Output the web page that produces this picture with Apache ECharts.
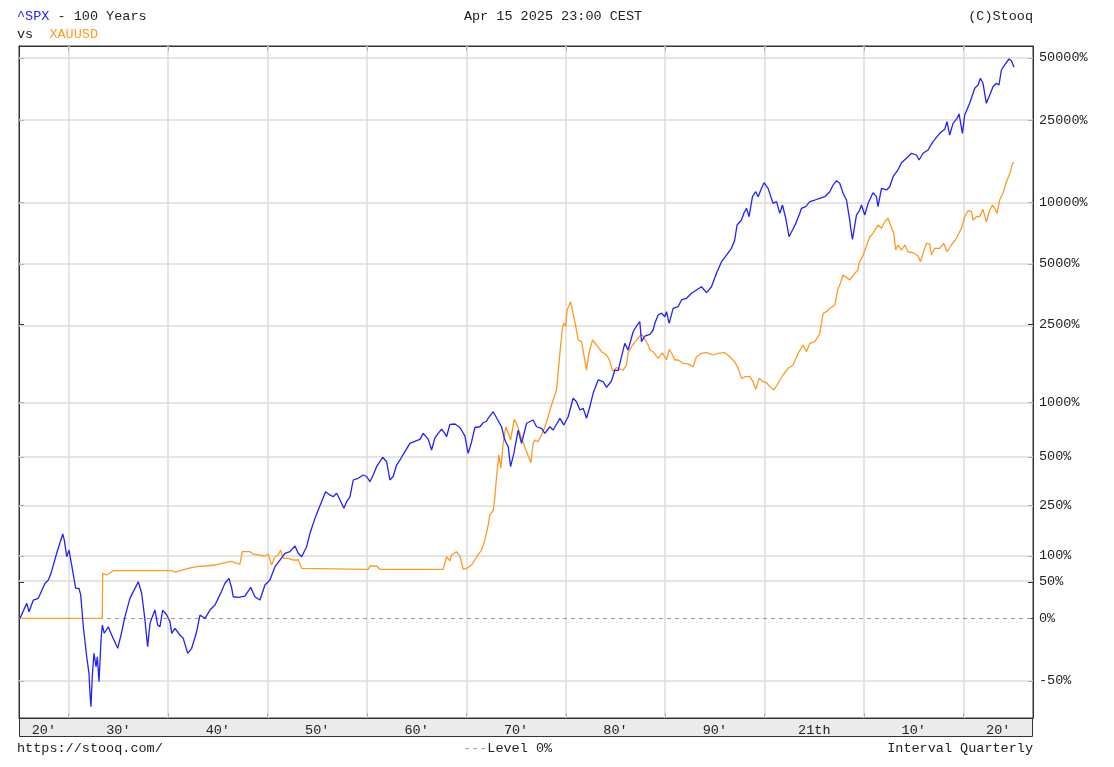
<!DOCTYPE html>
<html><head><meta charset="utf-8">
<script src="https://cdn.jsdelivr.net/npm/echarts@6/dist/echarts.min.js"></script>
<style>html,body{margin:0;padding:0;background:#fff}#c{width:1114px;height:767px}</style>
</head><body><div id="c"></div>
<script>
// ---- data: [year (decimal), change in % since start] ----
const spxPoints = [
[1925.10,0],[1925.78,18],[1926.01,7.6],[1926.44,22.5],[1926.94,24.8],[1927.62,47.5],[1927.95,53],[1928.22,64.7],[1928.79,105.7],[1929.40,154.7],[1929.56,138],[1929.80,98],
[1930.03,113],[1930.30,80.6],[1930.70,39.5],[1931.04,39.5],[1931.21,29.4],[1931.47,-8.9],[1931.81,-34.7],[1932.04,-45.7],[1932.14,-56.5],[1932.24,-62.5],[1932.37,-47.6],[1932.54,-32.2],[1932.75,-41.5],[1932.88,-34.7],[1933.05,-50.5],[1933.25,-21.4],[1933.38,-7.2],[1933.58,-15.3],[1933.98,-8.9],[1934.32,-16.9],[1934.93,-28.3],[1935.26,-16.9],[1935.66,1.8],[1936.16,24.8],[1937.00,50],[1937.34,32],[1937.67,-1.8],[1937.94,-27],[1938.18,-5.4],[1938.41,1.8],[1938.68,9.6],[1938.95,-7.2],[1939.18,-8.9],[1939.45,9.6],[1939.86,3.7],
[1940.19,-3.7],[1940.36,-15.3],[1940.69,-10.5],[1941.19,-16.9],[1941.52,-19.9],[1941.97,-32.2],[1942.37,-28.3],[1942.87,-13.8],[1943.20,3.7],[1943.71,0],[1944.21,9.6],[1944.71,15.9],[1945.22,30],[1945.72,47.5],[1946.12,55.8],[1946.39,40],[1946.55,27],[1947.06,26.2],[1947.73,28],[1948.30,41],[1948.73,27],[1949.24,22.5],[1949.74,44.7],
[1950.24,53],[1950.75,77.3],[1951.25,90.9],[1951.75,105.7],[1952.25,109.4],[1952.76,123],[1953.09,105.7],[1953.43,98],[1953.93,121],[1954.27,156.7],[1954.77,203],[1955.10,232.5],[1955.44,264.6],[1955.84,307],[1956.28,293],[1956.61,285],[1956.95,300],[1957.21,278.5],[1957.45,258],[1957.68,239],[1957.96,264.6],[1958.29,285],[1958.62,363.7],[1959.12,372.5],[1959.63,390],[1959.97,382],
[1960.30,355],[1960.63,390],[1960.97,437.5],[1961.58,496.5],[1961.98,468],[1962.31,363.7],[1962.64,382],[1962.98,447.5],[1963.32,478.7],[1963.82,534.7],[1964.32,596.6],[1964.99,617],[1965.33,628],[1965.66,678],[1966.16,630],[1966.50,547],[1966.84,640],[1967.17,678],[1967.51,714],[1967.84,678],[1968.01,649],[1968.34,760],[1968.85,763],[1969.35,730],[1969.85,656],
[1970.18,523],[1970.53,609],[1970.86,730],[1971.36,737],[1971.69,775],[1972.03,790],[1972.19,819],[1972.70,889],[1973.20,795],[1973.54,737],[1973.87,622],[1974.21,571],[1974.45,437.5],[1974.78,523],[1975.21,707],[1975.55,597],[1976.06,770],[1976.72,802],[1977.06,737],[1977.56,723],[1977.90,678],[1978.40,737],[1978.73,707],[1979.41,819],[1979.81,753],
[1980.24,835],[1980.74,1048],[1981.08,1005],[1981.42,908],[1981.75,927],[1982.09,819],[1982.42,945],[1982.75,1113],[1983.26,1306],[1983.76,1280],[1984.10,1195],[1984.60,1290],[1984.94,1470],[1985.27,1460],[1985.61,1720],[1985.94,2012],[1986.27,1860],[1986.78,2300],[1987.12,2460],[1987.45,2584],[1987.62,2050],[1987.95,2190],[1988.46,2230],[1988.79,2348],[1988.96,2536],[1989.29,2790],[1989.63,2850],[1989.96,2737],
[1990.13,2899],[1990.40,2536],[1990.80,3014],[1991.30,3070],[1991.64,3315],[1992.15,3378],[1992.65,3577],[1993.15,3714],[1993.65,3856],[1994.16,3603],[1994.66,3856],[1995.16,4490],[1995.67,5122],[1996.17,5523],[1996.67,5958],[1997.00,6543],[1997.23,7747],[1997.68,8190],[1997.91,8830],[1998.18,9340],[1998.44,8500],[1998.78,10640],[1999.11,11250],[1999.35,10640],[1999.69,11680],[1999.95,12440],
[2000.35,11680],[2000.85,9880],[2001.20,10060],[2001.53,8830],[2001.80,9690],[2002.13,8350],[2002.46,6790],[2002.81,7320],[2003.14,7890],[2003.54,8830],[2003.71,9340],[2004.14,9510],[2004.55,10060],[2005.05,10250],[2005.55,10450],[2006.05,10640],[2006.56,11250],[2006.89,12120],[2007.23,12720],[2007.56,12360],[2007.73,11680],[2007.89,11050],[2008.24,10250],[2008.40,9160],[2008.57,8190],[2008.64,7600],[2008.84,6590],[2009.24,8660],[2009.57,9160],[2009.74,9690],
[2010.08,8660],[2010.41,9880],[2010.91,11120],[2011.25,10640],[2011.41,9510],[2011.76,11680],[2012.26,11470],[2012.59,11900],[2012.92,13300],[2013.42,14340],[2013.77,15550],[2014.27,16340],[2014.77,17280],[2015.28,16950],[2015.54,16030],[2015.94,17280],[2016.44,17920],[2016.94,19660],[2017.62,21590],[2018.12,22570],[2018.35,24560],[2018.62,21180],[2018.96,24130],[2019.36,25520],[2019.56,26780],[2019.90,21590],
[2020.13,26480],[2020.63,30150],[2021.14,35630],[2021.47,36970],[2021.71,39820],[2021.97,37670],[2022.31,30150],[2022.65,33070],[2022.98,36270],[2023.32,37670],[2023.58,36970],[2023.82,43670],[2024.15,46180],[2024.59,49350],[2024.83,48430],[2025.09,45000]
];
const goldPoints = [
[1925.10,0],[1933.38,0],[1933.42,64.7],[1933.82,61.7],[1934.48,69.6],[1940.36,69.6],[1940.69,67],[1942.03,74],[1942.87,77.3],[1943.71,78.6],[1944.71,80.6],[1945.39,84],[1946.39,88],[1946.89,84],[1947.23,82.5],[1947.46,109.4],[1948.23,109.4],[1948.56,104],[1949.74,99.6],
[1950.07,104],[1950.41,80.6],[1950.75,98],[1951.08,101.8],[1951.32,113],[1951.58,94.5],[1952.08,94.5],[1952.59,90.9],[1953.09,90.9],[1953.43,74],[1953.53,72.2],[1960.13,72.2],[1960.30,78.6],[1960.97,78.6],[1961.30,72.2],[1967.67,72.2],[1968.01,98],[1968.34,89],[1968.51,101.8],[1969.00,109.4],[1969.35,99.6],[1969.68,72.2],
[1970.02,74],[1970.53,80.6],[1971.03,98],[1971.53,113],[1971.86,138],[1972.19,180],[1972.36,214.5],[1972.70,230],[1972.87,285],[1973.04,382],[1973.27,512],[1973.47,428],[1973.70,597],[1973.97,737],[1974.21,678],[1974.45,622],[1974.81,809],[1975.05,770],[1975.38,678],[1975.99,547],[1976.49,462],[1976.72,597],[1976.89,622],[1977.22,609],[1977.56,664],[1977.90,737],[1978.23,835],[1978.57,965],[1979.07,1158],[1979.41,1790],[1979.68,2438],[1979.81,2536],[1979.98,2438],
[1980.14,2955],[1980.48,3250],[1980.74,2846],[1981.01,2438],[1981.25,2090],[1981.59,2050],[1981.85,1720],[1982.09,1470],[1982.32,1790],[1982.69,2090],[1983.10,1973],[1983.60,1824],[1984.10,1755],[1984.43,1640],[1984.70,1455],[1985.11,1515],[1985.44,1485],[1985.77,1470],[1986.11,1560],[1986.27,1800],[1986.61,1934],[1987.12,2090],[1987.62,2240],[1987.95,2110],[1988.29,1973],[1988.46,1860],[1988.79,1824],[1989.29,1688],[1989.73,1800],
[1990.13,1655],[1990.42,1876],[1990.74,1755],[1990.97,1655],[1991.30,1655],[1991.80,1592],[1992.31,1580],[1992.81,1530],[1993.15,1720],[1993.65,1790],[1994.16,1803],[1994.82,1755],[1995.32,1790],[1996.00,1803],[1996.50,1720],[1997.00,1622],[1997.34,1500],[1997.68,1332],[1998.01,1358],[1998.51,1358],[1998.84,1280],[1999.11,1168],[1999.45,1332],[1999.85,1280],
[2000.19,1264],[2000.52,1205],[2000.92,1158],[2001.26,1230],[2001.53,1306],[2001.86,1386],[2002.36,1500],[2002.87,1560],[2003.37,1790],[2003.87,1973],[2004.21,1824],[2004.55,2012],[2005.05,2050],[2005.38,2173],[2005.55,2259],[2005.72,2536],[2005.88,2846],[2006.22,2899],[2006.56,3010],[2007.06,3130],[2007.39,3786],[2007.56,3930],[2007.89,4406],[2008.06,4406],[2008.57,4163],[2009.07,4490],[2009.40,4663],[2009.50,5030],[2009.91,5523],
[2010.58,6790],[2010.91,7050],[2011.41,7747],[2011.76,7460],[2012.09,8030],[2012.42,8350],[2012.66,7747],[2012.99,7050],[2013.19,5843],[2013.42,6183],[2013.77,5843],[2014.10,6183],[2014.43,5730],[2014.93,5668],[2015.44,5464],[2015.68,5122],[2015.94,5630],[2016.28,6300],[2016.61,6270],[2016.78,5523],[2017.12,5958],[2017.62,5958],[2018.02,6300],[2018.35,5730],[2018.79,6183],[2019.30,6670],[2019.80,7460],
[2020.13,8500],[2020.46,9090],[2020.81,8990],[2020.97,8190],[2021.31,8500],[2021.64,8500],[2021.97,9235],[2022.31,8030],[2022.65,9160],[2022.92,9690],[2023.15,9340],[2023.38,8830],[2023.65,10250],[2023.98,11050],[2024.33,12580],[2024.49,12580],[2024.73,14070],[2024.93,15450],[2025.09,15550]
];
const yTickPct = [-50, 0, 50, 100, 250, 500, 1000, 2500, 5000, 10000, 25000, 50000];
const decadeYears = [1930, 1940, 1950, 1960, 1970, 1980, 1990, 2000, 2010, 2020];
const decadeLabelYears = [1927.5, 1935, 1945, 1955, 1965, 1975, 1985, 1995, 2005, 2015, 2023.5];
const decadeLabels = ["20\u2032", "30\u2032", "40\u2032", "50\u2032", "60\u2032", "70\u2032", "80\u2032", "90\u2032", "21th", "10\u2032", "20\u2032"];

// ---- chart ----
const L = p => Math.log10(1 + p / 100);
const FONT = '"Liberation Mono","DejaVu Sans Mono",monospace';
const FS = 13.5;
const AX = '#333333';
const GRIDC = '#dcdcdc';
const BLUE = '#2222ff';
const ORANGE = '#ff9a22';
function nearestIdx(arr, v) { let b = 0; for (let i = 1; i < arr.length; i++) if (Math.abs(arr[i] - v) < Math.abs(arr[b] - v)) b = i; return b; }
const yTickVals = yTickPct.map(L);

const chart = echarts.init(document.getElementById('c'));
const xBase = {
  type: 'value', min: 1925, max: 2027,
  axisLine: { show: true, onZero: false, lineStyle: { color: AX, width: 1 } },
  axisTick: { show: true, inside: true, length: 5, customValues: decadeYears, lineStyle: { color: AX } },
  splitLine: { show: false }
};
const yBase = {
  type: 'value', min: -0.4802, max: 2.7568,
  axisLine: { show: true, onZero: false, lineStyle: { color: AX, width: 1 } },
  axisTick: { show: true, inside: true, length: 5, customValues: yTickVals, lineStyle: { color: AX } },
  splitLine: { show: false }
};
chart.setOption({
  animation: false,
  backgroundColor: '#ffffff',
  grid: { left: 19, right: 81, top: 46, bottom: 49, show: true, borderColor: AX, borderWidth: 1 },
  xAxis: [
    Object.assign({}, xBase, { position: 'bottom',
      axisLabel: { show: true, customValues: decadeLabelYears,
        formatter: v => decadeLabels[nearestIdx(decadeLabelYears, v)],
        margin: 5, color: '#222', fontFamily: FONT, fontSize: FS } }),
    Object.assign({}, xBase, { position: 'top', axisLabel: { show: false } })
  ],
  yAxis: [
    Object.assign({}, yBase, { position: 'right',
      axisLabel: { show: true, customValues: yTickVals,
        formatter: v => yTickPct[nearestIdx(yTickVals, v)] + '%',
        margin: 6, color: '#222', fontFamily: FONT, fontSize: FS } }),
    Object.assign({}, yBase, { position: 'left', axisLabel: { show: false } })
  ],
  graphic: [
    { type: 'rect', z: -1, shape: { x: 19.5, y: 718.5, width: 1013, height: 18 },
      style: { fill: '#ebebeb', stroke: AX, lineWidth: 1 } },
    { type: 'text', x: 17, y: 16, style: { text: '{b|^SPX} - 100 Years', align: 'left', verticalAlign: 'middle',
        font: FS + 'px ' + FONT, fill: '#222', rich: { b: { fill: BLUE, font: FS + 'px ' + FONT } } } },
    { type: 'text', x: 17, y: 34, style: { text: 'vs  {o|XAUUSD}', align: 'left', verticalAlign: 'middle',
        font: FS + 'px ' + FONT, fill: '#222', rich: { o: { fill: ORANGE, font: FS + 'px ' + FONT } } } },
    { type: 'text', x: 553, y: 16, style: { text: 'Apr 15 2025 23:00 CEST', align: 'center', verticalAlign: 'middle',
        font: FS + 'px ' + FONT, fill: '#222' } },
    { type: 'text', x: 1033, y: 16, style: { text: '(C)Stooq', align: 'right', verticalAlign: 'middle',
        font: FS + 'px ' + FONT, fill: '#222' } },
    { type: 'text', x: 17, y: 748, style: { text: 'https://stooq.com/', align: 'left', verticalAlign: 'middle',
        font: FS + 'px ' + FONT, fill: '#222' } },
    { type: 'text', x: 463, y: 748, style: { text: '{d|---}Level 0%', align: 'left', verticalAlign: 'middle',
        font: FS + 'px ' + FONT, fill: '#222', rich: { d: { fill: '#999', font: FS + 'px ' + FONT } } } },
    { type: 'text', x: 1033, y: 748, style: { text: 'Interval Quarterly', align: 'right', verticalAlign: 'middle',
        font: FS + 'px ' + FONT, fill: '#222' } }
  ],
  series: [
    { type: 'line', name: 'grid', data: [[1925, 0]], showSymbol: false, lineStyle: { opacity: 0 }, z: 1, silent: true,
      markLine: { silent: true, symbol: ['none', 'none'], z: 1, animation: false, label: { show: false },
        emphasis: { disabled: true },
        data: yTickPct.filter(p => p !== 0).map(p => ({ yAxis: L(p), lineStyle: { color: GRIDC, width: 1.5, type: 'solid' } }))
          .concat(decadeYears.map(y => ({ xAxis: y, lineStyle: { color: GRIDC, width: 1.5, type: 'solid' } })))
          .concat([{ yAxis: 0, lineStyle: { color: '#999', width: 1, type: [4, 4] } }]) } },
    { type: 'line', name: 'XAUUSD', data: goldPoints.map(d => [d[0], L(d[1])]), showSymbol: false, z: 3,
      lineStyle: { color: ORANGE, width: 1.3 } },
    { type: 'line', name: '^SPX', data: spxPoints.map(d => [d[0], L(d[1])]), showSymbol: false, z: 4,
      lineStyle: { color: BLUE, width: 1.3 } }
  ]
});
</script>
</body></html>
